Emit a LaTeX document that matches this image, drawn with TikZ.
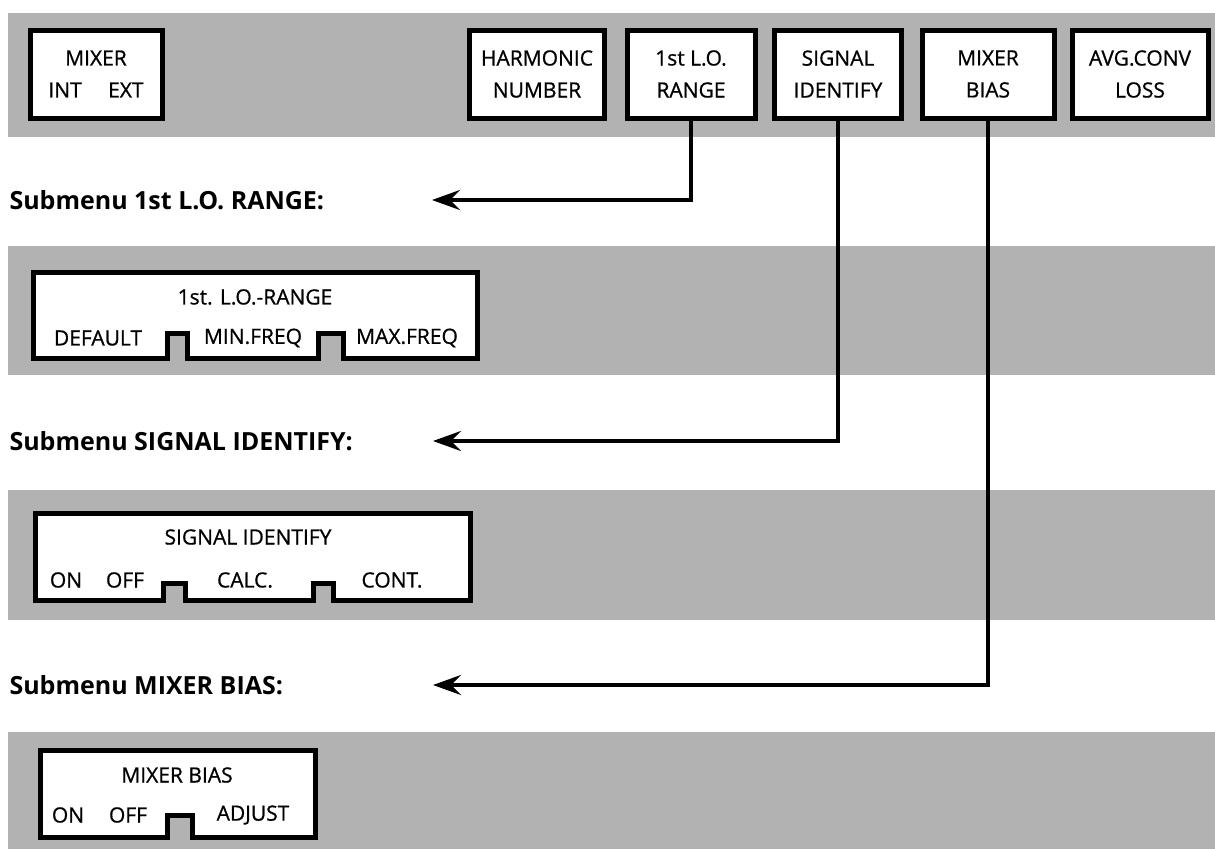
\documentclass[tikz,border=0pt]{standalone}
\usepackage{fontspec}
\setsansfont{Open Sans}
\newfontfamily\keyfont{Open Sans}[FakeBold=0.8]
\usetikzlibrary{arrows.meta,positioning}

\begin{document}
\begin{tikzpicture}[x=1pt, y=-1pt, font=\keyfont\fontsize{21}{32}\selectfont,
    band/.style={fill=black!30},
    softkey/.style={rectangle, draw, line width=5pt, fill=white, minimum height=88pt, align=center, inner sep=0pt},
    menubox/.style={draw, line width=5pt, fill=white},
    submenu/.style={anchor=west, font=\sffamily\bfseries\fontsize{25}{30}\selectfont},
    link/.style={line width=4.5pt, -{Stealth[length=28pt, width=20pt, inset=10pt]}}]
    \useasboundingbox (0,0) rectangle (1215,849);

    % shaded menu rows
    \fill[band] (8,13) rectangle (1215,137);
    \fill[band] (8,246) rectangle (1215,375);
    \fill[band] (8,490) rectangle (1215,620);
    \fill[band] (8,732) rectangle (1215,849);

    % main softkey menu
    \node[softkey, minimum width=132pt] (mixer) at (96,74) {MIXER\\INT\quad\ EXT};
    \node[softkey, minimum width=135pt] (harmonic) at (537,74) {HARMONIC\\NUMBER};
    \node[softkey, minimum width=128pt] (lorange) at (691,74) {1st L.O.\\RANGE};
    \node[softkey, minimum width=127pt] (sigident) at (838,74) {SIGNAL\\IDENTIFY};
    \node[softkey, minimum width=132pt] (mixbias) at (988,74) {MIXER\\BIAS};
    \node[softkey, minimum width=136pt] (avgconv) at (1140,74) {AVG.CONV\\LOSS};

    % submenu headings
    \node[submenu] (sublo) at (6,200) {Submenu 1st L.O. RANGE:};
    \node[submenu] (subsig) at (6,441) {Submenu SIGNAL IDENTIFY:};
    \node[submenu] (submix) at (6,685) {Submenu MIXER BIAS:};
    \coordinate (tiplo) at (432,200);
    \coordinate (tipsig) at (433,441);
    \coordinate (tipmix) at (433,685);

    \draw[link] (lorange.south) |- (tiplo);
    \draw[link] (sigident.south) |- (tipsig);
    \draw[link] (mixbias.south) |- (tipmix);

    % submenu 1st L.O. RANGE
    \draw[menubox] (33,272) -- (477,272) -- (477,358) -- (343,358) -- (343,333) -- (318,333) -- (318,358)
        -- (187,358) -- (187,333) -- (167,333) -- (167,358) -- (33,358) -- cycle;
    \node (lotitle) at (255,297) {1st. L.O.-RANGE};
    \node (lodefault) at (98,338) {DEFAULT};
    \node (lominfreq) at (253,338) {MIN.FREQ};
    \node (lomaxfreq) at (407,338) {MAX.FREQ};

    % submenu SIGNAL IDENTIFY
    \draw[menubox] (35,513) -- (470,513) -- (470,600) -- (333,600) -- (333,583) -- (313,583) -- (313,600)
        -- (185,600) -- (185,583) -- (163,583) -- (163,600) -- (35,600) -- cycle;
    \node (sigtitle) at (248,537) {SIGNAL IDENTIFY};
    \node (sigon) at (66,580) {ON};
    \node (sigoff) at (125,580) {OFF};
    \node (sigcalc) at (245,580) {CALC.};
    \node (sigcont) at (392,580) {CONT.};

    % submenu MIXER BIAS
    \draw[menubox] (40,750) -- (315,750) -- (315,837) -- (192,837) -- (192,815) -- (167,815) -- (167,837)
        -- (40,837) -- cycle;
    \node (mbtitle) at (177,775) {MIXER BIAS};
    \node (mbon) at (68,815) {ON};
    \node (mboff) at (128,815) {OFF};
    \node (mbadjust) at (253,815) {ADJUST};
\end{tikzpicture}
\end{document}
